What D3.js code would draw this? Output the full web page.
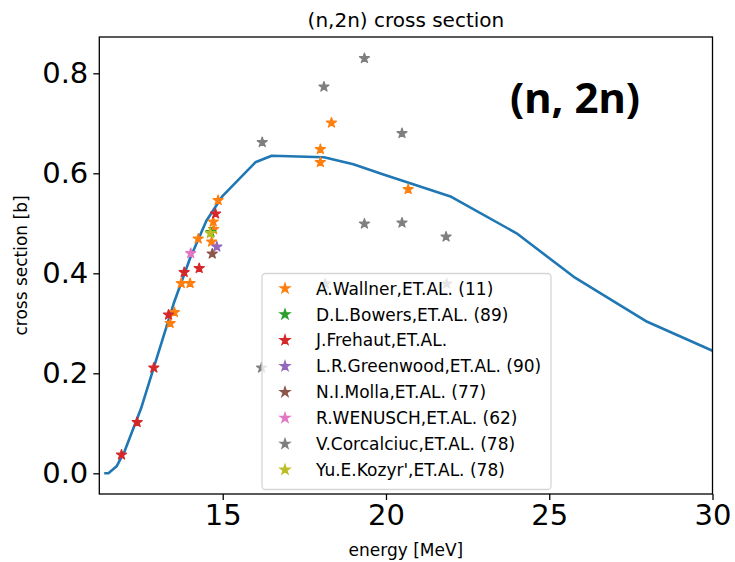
<!DOCTYPE html>
<html>
<head>
<meta charset="utf-8">
<script src="https://cdn.jsdelivr.net/npm/d3@7"></script>
<style>
  body { margin: 0; background: #fff; }
  text { font-family: "DejaVu Sans", sans-serif; fill: #000; }
</style>
</head>
<body>
<script>
'use strict';

// evaluated (n,2n) curve
const curveE  = [11.37, 11.5, 11.75, 12.0, 12.5, 13.0, 13.5, 14.0, 14.5, 15.0, 16.0, 16.5, 18.1, 19.0, 19.9, 22.0, 24.0, 25.75, 28.0, 30.0];
const curveXS = [0.0,   0.0,  0.014, 0.045, 0.13, 0.235, 0.34, 0.43, 0.505, 0.555, 0.622, 0.635, 0.632, 0.618, 0.598, 0.553, 0.48, 0.393, 0.303, 0.245];

// experimental points, one pair of arrays per author
const wallnerE  = [13.39, 13.52, 13.73, 14.0, 14.25, 14.66, 14.72, 14.71, 14.86, 17.99, 17.99, 18.33, 20.68];
const wallnerXS = [0.30,  0.322, 0.38,  0.38, 0.469, 0.463, 0.488, 0.503, 0.546, 0.622, 0.648, 0.701, 0.568];
const bowersE   = [14.64];
const bowersXS  = [0.482];
const frehautE  = [11.9,  12.38, 12.89, 13.34, 13.82, 14.28, 14.78];
const frehautXS = [0.037, 0.102, 0.211, 0.317, 0.402, 0.41,  0.519];
const greenwoodE  = [14.82];
const greenwoodXS = [0.453];
const mollaE  = [14.68];
const mollaXS = [0.439];
const wenuschE  = [14.02];
const wenuschXS = [0.44];
const corcalciucE  = [19.34, 18.1,  16.21, 20.49, 19.34, 20.49, 21.84, 16.19, 18.14, 21.86];
const corcalciucXS = [0.83,  0.773, 0.662, 0.68,  0.499, 0.501, 0.473, 0.211, 0.379, 0.379];
const kozyrE  = [14.62];
const kozyrXS = [0.48];

const seriesNames = [
  "A.Wallner,ET.AL. (11)",
  "D.L.Bowers,ET.AL. (89)",
  "J.Frehaut,ET.AL.",
  "L.R.Greenwood,ET.AL. (90)",
  "N.I.Molla,ET.AL. (77)",
  "R.WENUSCH,ET.AL. (62)",
  "V.Corcalciuc,ET.AL. (78)",
  "Yu.E.Kozyr',ET.AL. (78)"
];
const seriesE  = [wallnerE, bowersE, frehautE, greenwoodE, mollaE, wenuschE, corcalciucE, kozyrE];
const seriesXS = [wallnerXS, bowersXS, frehautXS, greenwoodXS, mollaXS, wenuschXS, corcalciucXS, kozyrXS];
const seriesColors = ["#ff7f0e", "#2ca02c", "#d62728", "#9467bd", "#8c564b", "#e377c2", "#7f7f7f", "#bcbd22"];

const xTicks = [15, 20, 25, 30];
const yTicks = [0.0, 0.2, 0.4, 0.6, 0.8];

const W = 735, H = 562;
const plot = { left: 99.3, right: 712.5, top: 37, bottom: 494 };

const svg = d3.select("body").append("svg")
  .attr("width", W)
  .attr("height", H);

const xScale = d3.scaleLinear().domain([11.22, 30]).range([plot.left, plot.right]);
const yScale = d3.scaleLinear().domain([-0.0414, 0.8726]).range([plot.bottom, plot.top]);

// axes
const xAxis = d3.axisBottom(xScale).tickValues(xTicks).tickFormat(d3.format("d")).tickSize(6).tickPadding(4);
const yAxis = d3.axisLeft(yScale).tickValues(yTicks).tickFormat(d3.format(".1f")).tickSize(6).tickPadding(5);

const gx = svg.append("g").attr("transform", `translate(0,${plot.bottom})`).call(xAxis);
const gy = svg.append("g").attr("transform", `translate(${plot.left},0)`).call(yAxis);
[gx, gy].forEach(g => {
  g.select(".domain").remove();
  g.selectAll(".tick line").attr("stroke", "#000").attr("stroke-width", 1.3);
  g.selectAll(".tick text").style("font-family", "DejaVu Sans").style("font-size", "29px").attr("fill", "#000");
});

// curve
const line = d3.line().x(d => xScale(d[0])).y(d => yScale(d[1]));
svg.append("path")
  .datum(curveE.map((e, i) => [e, curveXS[i]]))
  .attr("d", line)
  .attr("fill", "none")
  .attr("stroke", "#1f77b4")
  .attr("stroke-width", 2.6)
  .attr("stroke-linejoin", "round")
  .attr("stroke-linecap", "butt");

// stars
const star = d3.symbol().type(d3.symbolStar).size(31);
seriesNames.forEach((name, s) => {
  svg.append("g").selectAll("path")
    .data(seriesE[s].map((e, i) => [e, seriesXS[s][i]]))
    .enter()
    .append("path")
      .attr("d", star)
      .attr("transform", d => `translate(${xScale(d[0])},${yScale(d[1])})`)
      .attr("fill", seriesColors[s])
      .attr("stroke", seriesColors[s])
      .attr("stroke-width", 1.2)
      .attr("stroke-linejoin", "round");
});

// frame
svg.append("rect")
  .attr("x", plot.left).attr("y", plot.top)
  .attr("width", plot.right - plot.left).attr("height", plot.bottom - plot.top)
  .attr("fill", "none").attr("stroke", "#000").attr("stroke-width", 1.3);

// legend
const leg = { x: 262, y: 273.5, w: 289, h: 216, rowY: 288.5, rowStep: 25.9 };
const legend = svg.append("g");
legend.append("rect")
  .attr("x", leg.x).attr("y", leg.y)
  .attr("width", leg.w).attr("height", leg.h)
  .attr("rx", 3.5)
  .attr("fill", "#fff").attr("fill-opacity", 0.8)
  .attr("stroke", "#d6d6d6").attr("stroke-width", 1.3);

seriesNames.forEach((name, s) => {
  let cy = leg.rowY + s * leg.rowStep;
  legend.append("path")
    .attr("d", star)
    .attr("transform", `translate(${leg.x + 23},${cy})`)
    .attr("fill", seriesColors[s])
    .attr("stroke", seriesColors[s])
    .attr("stroke-width", 1.2);
  legend.append("text")
    .attr("x", leg.x + 54)
    .attr("y", cy)
    .attr("dy", "0.36em")
    .style("font-size", "17px")
    .attr("fill", "#262626")
    .text(name);
});

// title and labels
svg.append("text")
  .attr("x", (plot.left + plot.right) / 2)
  .attr("y", 27)
  .style("text-anchor", "middle")
  .style("font-size", "20px")
  .text("(n,2n) cross section");

svg.append("text")
  .attr("x", (plot.left + plot.right) / 2)
  .attr("y", 556)
  .style("text-anchor", "middle")
  .style("font-size", "17px")
  .text("energy [MeV]");

svg.append("text")
  .attr("transform", `translate(27,${(plot.top + plot.bottom) / 2}) rotate(-90)`)
  .style("text-anchor", "middle")
  .style("font-size", "17px")
  .text("cross section [b]");

svg.append("text")
  .attr("x", 575)
  .attr("y", 113)
  .style("text-anchor", "middle")
  .style("font-family", "'Noto Sans', 'Open Sans', sans-serif")
  .style("font-weight", "700")
  .style("font-size", "42px")
  .text("(n, 2n)");
</script>
</body>
</html>
